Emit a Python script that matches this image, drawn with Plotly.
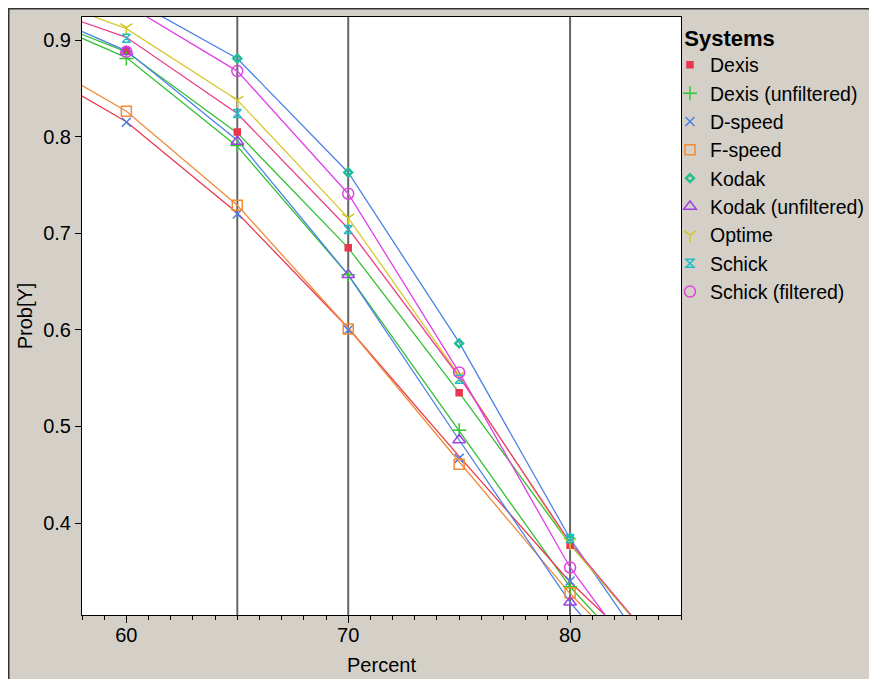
import plotly.graph_objects as go

# ---------------- data ----------------
x_obs = [60, 65, 70, 75, 80]
x_fit = [55, 60, 65, 70, 75, 80, 85]

systems = ["Dexis", "Dexis (unfiltered)", "D-speed", "F-speed", "Kodak",
           "Kodak (unfiltered)", "Optime", "Schick", "Schick (filtered)"]

# observed proportions (markers)
obs_dexis = [0.889, 0.805, 0.685, 0.535, 0.377]
obs_dexis_unf = [0.881, 0.791, 0.657, 0.496, 0.334]
obs_dspeed = [0.815, 0.720, 0.600, 0.467, 0.340]
obs_fspeed = [0.8265, 0.729, 0.601, 0.461, 0.3275]
obs_kodak = [0.945, 0.881, 0.763, 0.586, 0.384]
obs_kodak_unf = [0.888, 0.795, 0.657, 0.486, 0.318]
obs_optime = [0.913, 0.838, 0.716, 0.553, 0.380]
obs_schick = [0.902, 0.824, 0.704, 0.549, 0.384]
obs_schick_filt = [0.888, 0.868, 0.741, 0.556, 0.354]

# fitted curves (lines)
fit_dexis = [0.933, 0.888, 0.804, 0.685, 0.535, 0.378, 0.243]
fit_dexis_unf = [0.932, 0.882, 0.790, 0.657, 0.4955, 0.334, 0.209]
fit_dspeed = [0.882, 0.8155, 0.721, 0.602, 0.469, 0.339, 0.230]
fit_fspeed = [0.893, 0.8265, 0.729, 0.602, 0.4635, 0.327, 0.209]
fit_kodak = [0.990, 0.945, 0.881, 0.763, 0.587, 0.384, 0.218]
fit_kodak_unf = [0.939, 0.889, 0.7965, 0.657, 0.486, 0.318, 0.183]
fit_optime = [0.954, 0.912, 0.838, 0.716, 0.553, 0.378, 0.243]
fit_schick = [0.943, 0.903, 0.824, 0.705, 0.5515, 0.380, 0.243]
fit_schick_filt = [0.985, 0.937, 0.868, 0.741, 0.556, 0.354, 0.198]

ref_lines = [65, 70, 80]
y_ticks = [0.4, 0.5, 0.6, 0.7, 0.8, 0.9]
x_ticks = [60, 70, 80]

obs_all = [obs_dexis, obs_dexis_unf, obs_dspeed, obs_fspeed, obs_kodak,
           obs_kodak_unf, obs_optime, obs_schick, obs_schick_filt]
fit_all = [fit_dexis, fit_dexis_unf, fit_dspeed, fit_fspeed, fit_kodak,
           fit_kodak_unf, fit_optime, fit_schick, fit_schick_filt]

# ---------------- styles ----------------
marker_colors = ["#e8364f", "#2fc82f", "#4a7fe8", "#f08c34", "#1fbf8f",
                 "#a040e0", "#d2c61e", "#1fbcc8", "#e040e0"]
line_colors = ["#33c033", "#33c033", "#e83a50", "#f08c3a", "#4d80e8",
               "#4d80e8", "#d6c92e", "#e8408a", "#e040e8"]
symbols = ["square", "cross-thin-open", "x-thin-open", "square-open",
           "diamond-open", "triangle-up-open", "y-down-open",
           "hourglass-open", "circle-open"]
sizes = [6, 10, 9, 10, 6, 11, 10, 8, 11]
line_w = [1.5, 1.5, 1.5, 1.5, 2.5, 1.5, 1.5, 1.5, 1.5]

FONT = "Liberation Sans, Arial, sans-serif"

fig = go.Figure()

for name, fit, lc in zip(systems, fit_all, line_colors):
    fig.add_trace(go.Scatter(x=x_fit, y=fit, mode="lines", name=name,
                             line=dict(color=lc, width=1.3),
                             showlegend=False, hoverinfo="skip"))

for name, obs, mc, sym, sz, lw in zip(systems, obs_all, marker_colors, symbols, sizes, line_w):
    fig.add_trace(go.Scatter(x=x_obs, y=obs, mode="markers", name=name,
                             marker=dict(color=mc, symbol=sym, size=sz,
                                         line=dict(color=mc, width=lw))))

# reference lines
for xv in ref_lines:
    fig.add_shape(type="line", xref="x", yref="paper", x0=xv, x1=xv, y0=0, y1=1,
                  line=dict(color="#666666", width=2), layer="below")

# page has an 8px body margin: figure coords = screen coords - 8
OFF = 8
W, H = 877 - OFF, 679 - OFF
L, R, T, B = 82 - OFF, 681 - OFF, 17 - OFF, 615 - OFF
def px(v):
    return (v - L) / (R - L)
def py(v):
    return (B - v) / (B - T)

# dark frame border at the top/left of the grey panel
fig.add_shape(type="line", xref="paper", yref="paper", x0=px(0.75), x1=px(0.75),
              y0=py(700), y1=py(0), line=dict(color="#333333", width=1.5), layer="above")
fig.add_shape(type="line", xref="paper", yref="paper", x0=px(0), x1=px(900),
              y0=py(0.75), y1=py(0.75), line=dict(color="#333333", width=1.5), layer="above")

fig.update_layout(
    width=W, height=H,
    margin=dict(l=L, r=W - R, t=T, b=H - B, autoexpand=False),
    paper_bgcolor="#d4d0c8", plot_bgcolor="white",
    font=dict(family=FONT, size=20, color="black"),
    legend=dict(
        title=dict(text="\u00a0\u00a0<b>Systems</b>", font=dict(size=22, family=FONT)),
        font=dict(size=19.5, family=FONT),
        x=px(670 - OFF), xanchor="left", y=py(17 - OFF), yanchor="top",
        bgcolor="rgba(0,0,0,0)", borderwidth=0, itemwidth=30,
        tracegroupgap=0,
    ),
    xaxis=dict(
        range=[58, 85], tickvals=x_ticks, ticks="outside", ticklen=7,
        tickcolor="black", showgrid=False, zeroline=False,
        showline=True, linecolor="black", linewidth=1, mirror=True,
        tickfont=dict(size=20), ticklabelstandoff=-5,
        minor=dict(dtick=1, tick0=0, ticks="outside", ticklen=4, tickcolor="black"),
        title=dict(text="Percent", standoff=12, font=dict(size=20)),
    ),
    yaxis=dict(
        range=[0.3048, 0.924], tickvals=y_ticks, tickformat=".1f",
        ticks="outside", ticklen=6, tickcolor="black", showgrid=False,
        tickfont=dict(size=20),
        zeroline=False, showline=True, linecolor="black", linewidth=1,
        mirror=True, title=dict(text="Prob[Y]", standoff=5, font=dict(size=20)),
    ),
)

fig.write_html("out.html")
